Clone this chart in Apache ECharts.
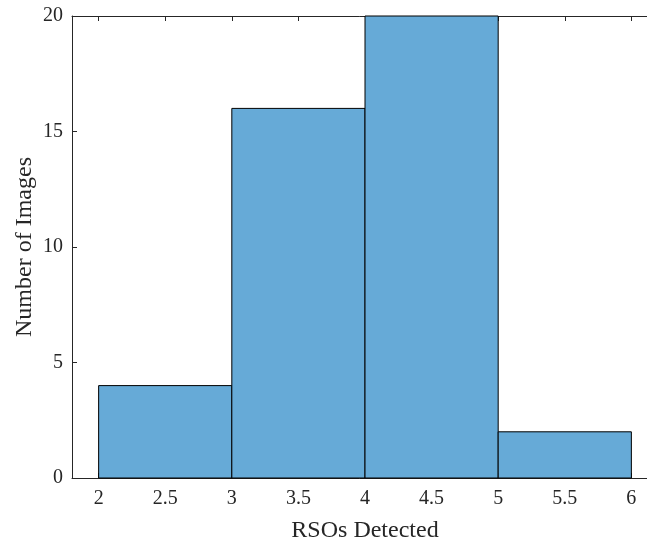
<!DOCTYPE html>
<html>
<head>
<meta charset="utf-8">
<script src="https://cdn.jsdelivr.net/npm/echarts@6/dist/echarts.min.js"></script>
<style>
  html, body { margin: 0; padding: 0; background: #fff; }
  #chart { width: 647px; height: 541px; }
</style>
</head>
<body>
<div id="chart"></div>
<script>
// Histogram bins: left edge, right edge, count
const binEdges = [2, 3, 4, 5, 6];
const binCounts = [4, 16, 20, 2];
const xTicks = [2, 2.5, 3, 3.5, 4, 4.5, 5, 5.5, 6];
const yTicks = [0, 5, 10, 15, 20];

const binData = binCounts.map((c, i) => [binEdges[i], binEdges[i + 1], c]);

const axisColor = '#262626';
const fontFamily = '"Liberation Serif", "Times New Roman", serif';

const xAxisBase = {
  type: 'value', min: 1.8, max: 6.2,
  axisLine: { show: true, onZero: false, lineStyle: { color: axisColor, width: 1 } },
  axisTick: { show: true, inside: true, length: 5, customValues: xTicks, lineStyle: { color: axisColor } },
  splitLine: { show: false }
};

const chart = echarts.init(document.getElementById('chart'));
chart.setOption({
  animation: false,
  backgroundColor: '#fff',
  grid: { left: 72, top: 16, width: 586, height: 462, containLabel: false, outerBoundsMode: 'none' },
  xAxis: [Object.assign({}, xAxisBase, {
    position: 'bottom',
    axisLabel: {
      color: axisColor, fontFamily, fontSize: 20, margin: 11,
      customValues: xTicks, formatter: v => String(v)
    },
    name: 'RSOs Detected', nameLocation: 'middle', nameGap: 41, nameMoveOverlap: false,
    nameTextStyle: { color: axisColor, fontFamily, fontSize: 24 }
  }), Object.assign({}, xAxisBase, {
    position: 'top',
    axisLabel: { show: false }
  })],
  yAxis: [{
    type: 'value', min: 0, max: 20, interval: 5,
    axisLine: { show: true, lineStyle: { color: axisColor, width: 1 } },
    axisTick: { show: true, inside: true, length: 5, customValues: yTicks, lineStyle: { color: axisColor } },
    axisLabel: { color: axisColor, fontFamily, fontSize: 20, margin: 9, customValues: yTicks },
    splitLine: { show: false },
    name: 'Number of Images', nameLocation: 'middle', nameGap: 35, nameMoveOverlap: false,
    nameTextStyle: { color: axisColor, fontFamily, fontSize: 24 }
  }],
  series: [{
    type: 'custom',
    xAxisIndex: 0, yAxisIndex: 0,
    data: binData,
    renderItem: function (params, api) {
      const p0 = api.coord([api.value(0), api.value(2)]);
      const p1 = api.coord([api.value(1), 0]);
      return {
        type: 'rect',
        shape: { x: p0[0], y: p0[1], width: p1[0] - p0[0], height: p1[1] - p0[1] },
        style: { fill: '#66aad7', stroke: '#000', lineWidth: 1 }
      };
    }
  }]
});
</script>
</body>
</html>
